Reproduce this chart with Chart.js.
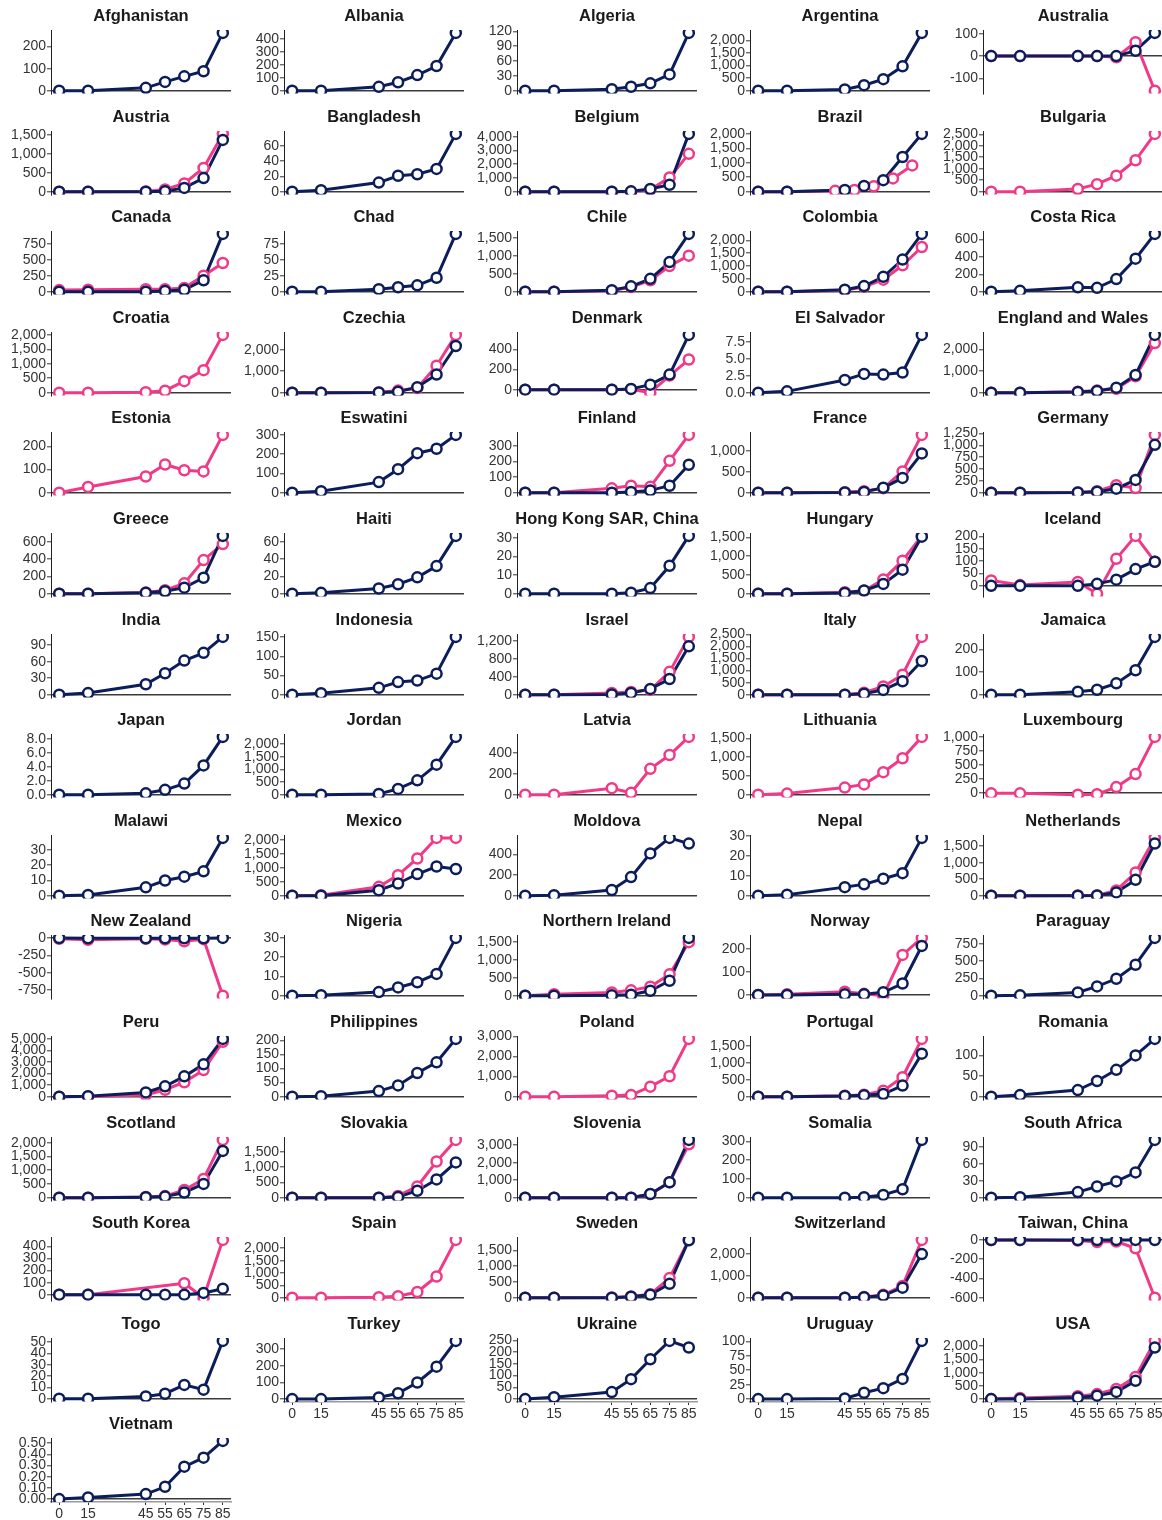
<!DOCTYPE html>
<html>
<head>
<meta charset="utf-8">
<script src="https://cdn.jsdelivr.net/npm/chart.js@4.4.1/dist/chart.umd.min.js"></script>
<style>
    html, body { margin: 0; padding: 0; background: #fff; overflow: hidden; }
    #panels { position: relative; width: 1162px; height: 1520px; overflow: hidden; }
    #panels canvas { position: absolute; }
</style>
</head>
<body>
<div id="panels"></div>
<script>
const countries = [
    "Afghanistan", "Albania", "Algeria", "Argentina", "Australia",
    "Austria", "Bangladesh", "Belgium", "Brazil", "Bulgaria",
    "Canada", "Chad", "Chile", "Colombia", "Costa Rica",
    "Croatia", "Czechia", "Denmark", "El Salvador", "England and Wales",
    "Estonia", "Eswatini", "Finland", "France", "Germany",
    "Greece", "Haiti", "Hong Kong SAR, China", "Hungary", "Iceland",
    "India", "Indonesia", "Israel", "Italy", "Jamaica",
    "Japan", "Jordan", "Latvia", "Lithuania", "Luxembourg",
    "Malawi", "Mexico", "Moldova", "Nepal", "Netherlands",
    "New Zealand", "Nigeria", "Northern Ireland", "Norway", "Paraguay",
    "Peru", "Philippines", "Poland", "Portugal", "Romania",
    "Scotland", "Slovakia", "Slovenia", "Somalia", "South Africa",
    "South Korea", "Spain", "Sweden", "Switzerland", "Taiwan, China",
    "Togo", "Turkey", "Ukraine", "Uruguay", "USA",
    "Vietnam"
];

const ages = [0, 15, 45, 55, 65, 75, 85];
// Brazil's pink series is reported on other age points
const brazilPinkAges = [0, 15, 40, 50, 60, 70, 80];

// navy series, one row per country (null = no series)
const navyValues = [
    [0, 0, 13, 40, 65, 88, 262],
    [0, 0, 30, 65, 120, 190, 445],
    [0, 0, 3, 8, 15, 33, 117],
    [0, 0, 50, 220, 460, 970, 2300],
    [0, 0, 0, 0, 0, 24, 104],
    [0, 0, 0, 15, 100, 360, 1370],
    [0, 2, 12, 21, 23, 30, 76],
    [0, 0, 0, 30, 200, 500, 4200],
    [0, 0, 60, 200, 400, 1200, 2000],
    null,
    [0, 0, 0, 10, 30, 180, 905],
    [0, 0, 4, 7, 10, 22, 91],
    [0, 0, 40, 150, 360, 830, 1620],
    [0, 0, 80, 220, 580, 1250, 2250],
    [0, 10, 50, 45, 145, 380, 665],
    null,
    [0, 0, 10, 40, 260, 850, 2180],
    [0, 0, 0, 8, 50, 150, 545],
    [0, 0.2, 1.9, 2.8, 2.7, 3.0, 8.6],
    [0, 0, 30, 80, 230, 820, 2680],
    null,
    [0, 8, 55, 122, 205, 228, 300],
    [0, 0, 0, 5, 15, 45, 180],
    [0, 0, 5, 20, 120, 355, 945],
    [0, 0, 5, 20, 85, 270, 1010],
    [0, 0, 10, 28, 70, 185, 670],
    [0, 1, 6, 11, 19, 32, 67],
    [0, 0, 0, 0.5, 3, 15, 31],
    [0, 0, 20, 85, 260, 640, 1520],
    [0, 0, 0, 8, 25, 68, 98],
    [0, 3, 19, 39, 62, 76, 105],
    [0, 4, 18, 33, 37, 55, 151],
    [0, 0, 5, 40, 130, 350, 1080],
    [0, 0, 0, 40, 200, 560, 1400],
    [0, 0, 13, 22, 50, 108, 255],
    [0, 0, 0.2, 0.7, 1.6, 4.2, 8.3],
    [0, 0, 30, 230, 570, 1190, 2290],
    null,
    null,
    null,
    [0, 0.5, 5.5, 10, 12.5, 16, 38],
    [0, 0, 200, 440, 780, 1050, 960],
    [0, 5, 55, 180, 410, 560, 505],
    [0, 0.5, 4.3, 5.7, 8.5, 11.3, 29],
    [0, 0, 0, 10, 100, 480, 1580],
    [0, -3, -3, -3, -3, -3, 3],
    [0, 0.3, 1.9, 4.3, 7, 11.3, 30],
    [0, 0, 10, 30, 140, 420, 1620],
    [0, 0, 3, 3, 12, 50, 213],
    [0, 5, 48, 135, 246, 450, 840],
    [0, 50, 370, 900, 1760, 2800, 5000],
    [0, 2, 20, 40, 84, 122, 205],
    null,
    [0, 0, 20, 40, 80, 330, 1280],
    [0, 4, 16, 38, 65, 100, 140],
    [0, 0, 20, 40, 190, 500, 1700],
    [0, 0, 0, 20, 230, 600, 1160],
    [0, 0, 0, 0, 210, 880, 3300],
    [0, 0, 0, 3, 15, 45, 308],
    [0, 1, 10, 20, 29, 45, 103],
    [0, 0, 0, 0, 0, 15, 50],
    null,
    [0, 0, 0, 30, 90, 440, 1820],
    [0, 0, 0, 20, 100, 460, 2000],
    [0, 0, 0, 0, 2, 2, 0],
    [0, 0, 2, 4.4, 12.2, 8, 51],
    [0, 0, 10, 35, 100, 195, 350],
    [0, 8, 30, 85, 170, 248, 220],
    [0, 0, 1, 11, 19, 35, 101],
    [0, 0, 60, 130, 270, 690, 1950],
    [0, 0.015, 0.045, 0.11, 0.29, 0.37, 0.52]
];

// pink series, one row per country (null = no series)
const pinkValues = [
    null,
    null,
    null,
    null,
    [0, 0, 0, 0, -5, 62, -155],
    [0, 0, 5, 60, 220, 630, 1530],
    null,
    [0, 0, 0, 0, 150, 1030, 2750],
    [0, 0, 30, 60, 190, 460, 910],
    [0, 0, 120, 330, 700, 1370, 2520],
    [25, 30, 40, 40, 60, 250, 450],
    null,
    [0, 0, 30, 130, 320, 720, 1010],
    [0, 0, 60, 190, 470, 1030, 1740],
    null,
    [0, 0, 20, 70, 400, 780, 2000],
    [0, 0, 10, 100, 220, 1260, 2700],
    [0, 0, 0, 5, -30, 140, 300],
    null,
    [0, 0, 50, 100, 180, 760, 2300],
    [0, 25, 70, 122, 97, 92, 250],
    null,
    [0, 0, 28, 45, 38, 205, 372],
    [0, 0, 10, 35, 110, 510, 1390],
    [0, 0, 5, 30, 160, 100, 1220],
    [0, 0, 15, 40, 120, 390, 575],
    null,
    null,
    [0, 0, 40, 80, 380, 880, 1540],
    [22, 3, 16, -32, 110, 203, 98],
    null,
    null,
    [0, 0, 40, 60, 110, 510, 1290],
    [0, 0, 0, 80, 340, 830, 2400],
    null,
    null,
    null,
    [0, 0, 62, 18, 246, 378, 550],
    [0, 30, 190, 275, 600, 970, 1540],
    [0, 0, -25, -15, 110, 340, 1000],
    null,
    [0, 20, 320, 740, 1340, 2080, 2080],
    null,
    null,
    [0, 0, 10, 10, 160, 700, 1750],
    [-10, -25, -10, -20, -45, -15, -830],
    null,
    [0, 40, 90, 150, 250, 600, 1500],
    [0, 3, 14, 5, -3, 174, 248],
    null,
    [0, 20, 150, 600, 1250, 2300, 4750],
    null,
    [0, 0, 50, 80, 500, 1020, 2880],
    [0, 0, 30, 60, 180, 580, 1720],
    null,
    [0, 0, 30, 60, 280, 680, 2100],
    [0, 0, 0, 60, 370, 1190, 1900],
    [0, 0, 0, 0, 200, 880, 3050],
    null,
    null,
    [0, 0, null, null, 95, -25, 455],
    [0, 0, 20, 60, 230, 860, 2340],
    [0, 0, 10, 40, 110, 620, 1830],
    [0, 0, 0, 30, 130, 540, 2650],
    [0, 0, -5, -20, -15, -85, -600],
    null,
    null,
    null,
    null,
    [0, 40, 110, 190, 380, 840, 2200],
    null
];

// y tick spacing per panel
const yStep = [
    100, 100, 30, 500, 100,
    500, 20, 1000, 500, 500,
    250, 25, 500, 500, 200,
    500, 1000, 200, 2.5, 1000,
    100, 100, 100, 500, 250,
    200, 20, 10, 500, 50,
    30, 50, 400, 500, 100,
    2, 500, 200, 500, 250,
    10, 500, 200, 10, 500,
    250, 10, 500, 100, 250,
    1000, 50, 1000, 500, 50,
    500, 500, 1000, 100, 30,
    100, 500, 500, 1000, 200,
    10, 100, 50, 25, 500,
    0.1
];
const yDecimals = { "El Salvador": 1, "Japan": 1, "Vietnam": 2 };

const NAVY        = "#0b1d5a";
const PINK        = "#f03a88";
const FONT        = "'Liberation Sans', Arial, Helvetica, sans-serif";
const TEXT_COLOR  = "#333333";
const COL_W       = 233;
const ROW_H       = 100.6;

// panel title centred over the plotting area, like a facet strip
const panelTitle = {
    id: "panelTitle",
    afterDraw(chart, args, opts) {
        const ctx  = chart.ctx;
        const area = chart.chartArea;
        ctx.save();
        ctx.fillStyle    = "#1a1a1a";
        ctx.font         = "bold 16.5px " + FONT;
        ctx.textAlign    = "center";
        ctx.textBaseline = "middle";
        ctx.fillText(opts.text, (area.left + area.right) / 2, 16);
        ctx.restore();
    }
};

function to_points(xs, ys) {
    if (!ys) return [];
    let pts = [];
    for (let k = 0; k < xs.length; k++) {
        pts.push({ x: xs[k], y: ys[k] });
    }
    return pts;
}

function line_set(pts, color) {
    return {
        data: pts,
        borderColor: color,
        borderWidth: 3,
        pointRadius: 0,
        tension: 0,
        spanGaps: true,
        clip: 0
    };
}

function point_set(pts, color) {
    return {
        data: pts,
        showLine: false,
        pointRadius: 5,
        pointBorderWidth: 2.5,
        pointBorderColor: color,
        pointBackgroundColor: "#ffffff",
        clip: 0
    };
}

// multiples of the step that fall inside the axis range
function step_ticks(min, max, step) {
    let out   = [];
    let first = Math.ceil(min / step - 1e-9);
    let last  = Math.floor(max / step + 1e-9);
    for (let k = first; k <= last; k++) {
        let v = Math.round(k * step * 1e6) / 1e6;
        if (v === 0) v = 0;     // no "-0"
        out.push({ value: v });
    }
    return out;
}

function fmt(v, d) {
    if (Math.abs(v) < 1e-9) v = 0;
    return Number(v).toLocaleString("en-US", { minimumFractionDigits: d, maximumFractionDigits: d });
}

function make_panel(i) {
    let name    = countries[i];
    let col     = i % 5;
    let row     = Math.floor(i / 5);
    let bottom  = i + 5 >= countries.length;

    let canvas  = document.createElement("canvas");
    canvas.width  = COL_W;
    canvas.height = bottom ? 116 : 103;
    canvas.style.left = (col * COL_W) + "px";
    canvas.style.top  = Math.round(row * ROW_H) + "px";
    document.getElementById("panels").appendChild(canvas);

    let navy = to_points(ages, navyValues[i]);
    let pink = to_points(name === "Brazil" ? brazilPinkAges : ages, pinkValues[i]);

    let ys  = navy.concat(pink).map(p => p.y).filter(v => v !== null);
    let lo  = Math.min(...ys);
    let hi  = Math.max(...ys);
    let pad = (hi - lo) * 0.05;
    let dec = yDecimals[name] || 0;

    // lines under points, navy drawn above pink
    let datasets = [];
    if (navy.length) datasets.push(point_set(navy, NAVY));
    if (pink.length) datasets.push(point_set(pink, PINK));
    if (navy.length) datasets.push(line_set(navy, NAVY));
    if (pink.length) datasets.push(line_set(pink, PINK));

    new Chart(canvas.getContext("2d"), {
        type: "line",
        data: { datasets: datasets },
        plugins: [panelTitle],
        options: {
            responsive: false,
            animation: false,
            devicePixelRatio: 1,
            layout: { autoPadding: false, padding: { left: 0, right: 2, top: 30, bottom: 0 } },
            scales: {
                x: {
                    type: "linear",
                    min: -4.25,
                    max: 89.25,
                    display: bottom,
                    afterBuildTicks: (s) => { s.ticks = ages.map(v => ({ value: v })); },
                    afterFit: (s) => { if (bottom) s.height = 22; },
                    grid: { drawOnChartArea: false, drawTicks: true, tickLength: 3, tickColor: "#333333" },
                    border: { display: true, color: "#9a9a9a", width: 1.5 },
                    ticks: {
                        autoSkip: false, maxRotation: 0, minRotation: 0, padding: 1,
                        color: TEXT_COLOR, font: { size: 14, family: FONT },
                        callback: (v) => String(v)
                    }
                },
                y: {
                    min: lo - pad,
                    max: hi + pad,
                    afterBuildTicks: (s) => { s.ticks = step_ticks(lo - pad, hi + pad, yStep[i]); },
                    afterFit: (s) => { s.width = 51; },
                    grid: {
                        color: (c) => (c.tick && Math.abs(c.tick.value) < 1e-9) ? "#3a3a3a" : "rgba(0,0,0,0)",
                        lineWidth: 1.6,
                        drawTicks: true,
                        tickLength: 4,
                        tickColor: "#333333",
                        tickWidth: 1
                    },
                    border: { display: true, color: "#222222", width: 1 },
                    ticks: {
                        autoSkip: false,
                        padding: 1,
                        color: TEXT_COLOR,
                        font: { size: 14, family: FONT },
                        callback: (v) => fmt(v, dec)
                    }
                }
            },
            plugins: {
                legend: { display: false },
                tooltip: { enabled: false },
                title: { display: false },
                panelTitle: { text: name }
            }
        }
    });
}

window.addEventListener("load", function () {
    for (let i = 0; i < countries.length; i++) {
        make_panel(i);
    }
});
</script>
</body>
</html>
